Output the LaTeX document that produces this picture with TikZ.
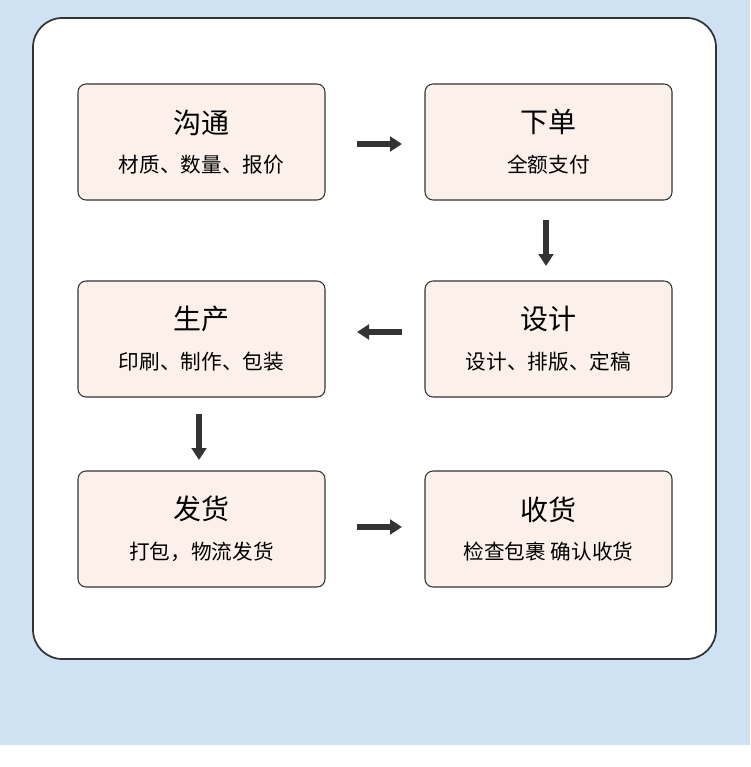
\documentclass[tikz,border=0pt]{standalone}
\usepackage{fontspec}
\setmainfont{Noto Sans CJK SC}
\usetikzlibrary{arrows.meta}
\definecolor{bgblue}{HTML}{CFE2F3}
\definecolor{boxfill}{HTML}{FCF1EA}
\definecolor{dark}{HTML}{333333}
\tikzset{
  x=0.75pt,y=-0.75pt,
  stepbox/.style={draw=dark,line width=0.8pt,fill=boxfill,rounded corners=6pt,minimum width=185.25pt,minimum height=87pt,inner sep=0pt},
  flow/.style={-{Triangle[length=9pt,width=11pt]},line width=4.5pt,draw=dark}
}
\newcommand{\boxtext}[2]{\shortstack{{\fontsize{21}{25}\selectfont #1}\\[12pt]{\fontsize{15.5}{18}\selectfont #2}}}
\begin{document}
\begin{tikzpicture}
\useasboundingbox (0,0) rectangle (750,767);
\fill[bgblue] (0,0) rectangle (750,745);
\fill[white] (0,745) rectangle (750,767);
\draw[dark,line width=1.3pt,fill=white,rounded corners=22pt] (33,18) rectangle (716,659);
\node[stepbox] (a) at (201.5,142) {\boxtext{沟通}{材质、数量、报价}};
\node[stepbox] (b) at (548.5,142) {\boxtext{下单}{全额支付}};
\node[stepbox] (c) at (548.5,339) {\boxtext{设计}{设计、排版、定稿}};
\node[stepbox] (d) at (201.5,339) {\boxtext{生产}{印刷、制作、包装}};
\node[stepbox] (e) at (201.5,529) {\boxtext{发货}{打包，物流发货}};
\node[stepbox] (f) at (548.5,529) {\boxtext{收货}{检查包裹 确认收货}};
\coordinate (a1) at (357,144); \coordinate (a2) at (402,144);
\coordinate (b1) at (546,220); \coordinate (b2) at (546,266);
\coordinate (c1) at (402,332); \coordinate (c2) at (357,332);
\coordinate (d1) at (199,414); \coordinate (d2) at (199,460);
\coordinate (e1) at (357,527); \coordinate (e2) at (402,527);
\draw[flow] (a1) -- (a2);
\draw[flow] (b1) -- (b2);
\draw[flow] (c1) -- (c2);
\draw[flow] (d1) -- (d2);
\draw[flow] (e1) -- (e2);
\end{tikzpicture}
\end{document}
